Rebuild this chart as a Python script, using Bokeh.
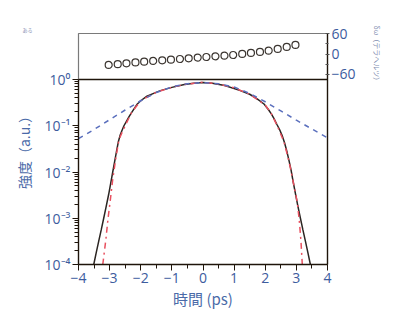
from bokeh.plotting import figure
from bokeh.models import (Range1d, FixedTicker, CustomJSTickFormatter, LinearAxis,
                          LinearScale, Span, Title)
from bokeh.embed import file_html
from bokeh.resources import INLINE

# ---------------- data ----------------
# measured intensity (black solid)
t_meas = [-3.51, -3.43, -3.35, -3.27, -3.19, -3.11, -3.03, -2.96, -2.9, -2.83, -2.77, -2.72,
          -2.66, -2.6, -2.54, -2.46, -2.38, -2.3, -2.2, -2.11, -2.0, -1.8, -1.37, -1.0, -0.6,
          -0.3, 0.0, 0.3, 0.7, 1.2, 1.5, 1.74, 1.96, 2.1, 2.2, 2.3, 2.38, 2.46, 2.54, 2.62,
          2.7, 2.76, 2.83, 2.9, 2.97, 3.05, 3.13, 3.21, 3.29, 3.37, 3.45]
i_meas = [1.0e-4, 1.8e-4, 3.2e-4, 5.6e-4, 1.0e-3, 1.8e-3, 3.3e-3, 6.0e-3, 1.0e-2, 1.8e-2,
          3.0e-2, 4.5e-2, 6.3e-2, 8.0e-2, 0.1, 0.125, 0.155, 0.19, 0.24, 0.295, 0.347,
          0.437, 0.575, 0.676, 0.776, 0.83, 0.86, 0.83, 0.74, 0.575, 0.48, 0.38, 0.295,
          0.225, 0.178, 0.135, 0.105, 0.083, 0.062, 0.043, 0.027, 0.018, 0.011, 6.0e-3,
          3.4e-3, 1.8e-3, 1.0e-3, 5.6e-4, 3.2e-4, 1.8e-4, 1.0e-4]

# retrieved intensity (red dash-dot)
t_ret = [-3.22, -3.12, -3.05, -2.98, -2.9, -2.8, -2.7, -2.6, -2.5, -2.3, -2.0, -1.5, -1.0,
         -0.5, 0.0, 0.5, 1.0, 1.5, 2.0, 2.2, 2.4, 2.6, 2.7, 2.8, 2.9, 2.97, 3.03, 3.1,
         3.15, 3.19]
i_ret = [1.0e-4, 3.5e-4, 1.0e-3, 2.4e-3, 7.0e-3, 0.02, 0.05, 0.072, 0.1, 0.19, 0.35, 0.53,
         0.68, 0.8, 0.87, 0.8, 0.66, 0.48, 0.28, 0.18, 0.095, 0.045, 0.025, 0.013, 6.0e-3,
         3.5e-3, 2.2e-3, 8.0e-4, 3.0e-4, 1.0e-4]

# broad reference pulse (blue dashed)
t_ref = [-4.0, -3.5, -3.0, -2.5, -2.2, -2.0, -1.5, -1.0, -0.5, 0.0, 0.5, 1.0, 1.5, 2.0,
         2.5, 3.0, 3.5, 4.0]
i_ref = [0.0525, 0.083, 0.135, 0.219, 0.288, 0.347, 0.525, 0.69, 0.81, 0.86, 0.81, 0.69,
         0.50, 0.33, 0.209, 0.132, 0.085, 0.055]

# instantaneous frequency shift (circles, top panel)
t_freq = [-3.03, -2.74, -2.46, -2.17, -1.89, -1.60, -1.31, -1.03, -0.74, -0.46, -0.17,
          0.11, 0.40, 0.69, 0.97, 1.26, 1.54, 1.83, 2.11, 2.40, 2.69, 2.97]
d_freq = [-32.0, -29.6, -27.1, -24.6, -22.2, -20.2, -18.2, -16.3, -14.3, -12.3, -10.3,
          -8.4, -6.4, -4.4, -2.5, 0.5, 3.5, 6.4, 10.3, 15.3, 21.2, 27.1]

x_ticks = [-4, -3, -2, -1, 0, 1, 2, 3, 4]
x_minor = [-3.5, -2.5, -1.5, -0.5, 0.5, 1.5, 2.5, 3.5]
x_labels = {-4: "−4", -3: "−3", -2: "−2", -1: "−1", 0: "0", 1: "1", 2: "2", 3: "3", 4: "4"}
y_decades = [1e-4, 1e-3, 1e-2, 1e-1, 1.0]
f_ticks = [-60, 0, 60]
f_minor = [-30, 30]
f_labels = {-60: "−60", 0: "0", 60: "60"}

x_label = "時間 (ps)"
y_label = "強度（a.u.）"
f_label = "δω（テラヘルツ）"
corner_note = "ある"

# ---------------- styling / layout ----------------
TICK_FONT = "Open Sans"
JP_FONT = "Noto Sans CJK JP"
BLUE_TXT = "#3d5c9e"
AXIS_COL = "#1e140a"

FRAME_W = 249
MAIN_H = 185          # height of the log panel (4 decades)
TOP_H = 46            # height of the frequency panel above it
frame_h = MAIN_H + TOP_H
log_top = 10 ** (4 * (frame_h / MAIN_H) - 4)     # upper end of the log range
f_top = 61.0
f_px = 40.6 / 120.0                                 # pixels per THz in top panel
f_bot = f_top - frame_h / f_px

p = figure(frame_width=FRAME_W, frame_height=frame_h,
           x_range=Range1d(-4, 4), y_range=Range1d(1e-4, log_top), y_axis_type="log",
           output_backend="svg", toolbar_location=None,
           min_border_left=78, min_border_right=68, min_border_top=33, min_border_bottom=59)
p.extra_y_ranges = {"f": Range1d(f_bot, f_top)}
p.extra_y_scales = {"f": LinearScale()}
p.xgrid.visible = False
p.ygrid.visible = False
p.outline_line_color = "#7a7a7a"
p.outline_line_width = 1.2
p.background_fill_color = "white"
p.border_fill_color = "white"

# tiny corner note as the title
p.title.text = corner_note
p.title.text_font = JP_FONT
p.title.text_font_size = "5px"
p.title.text_font_style = "normal"
p.title.text_color = "#7f8db0"
p.title.offset = -56
p.title.standoff = 1

# separator between panels
p.add_layout(Span(location=y_decades[-1], dimension="width", line_color=AXIS_COL,
                  line_width=1.3))

p.line(t_meas, i_meas, line_color="#2b2522", line_width=1.5)
p.line(t_ret, i_ret, line_color="#e8505f", line_width=1.5, line_dash="dashdot")
p.line(t_ref, i_ref, line_color="#5a6fbd", line_width=1.5, line_dash="5 5")

p.scatter(t_freq, d_freq, y_range_name="f", marker="circle", size=7,
          fill_color="white", line_color="#3c3631", line_width=1.2)

# bottom axis
xa = p.xaxis[0]
xa.ticker = FixedTicker(ticks=x_ticks, minor_ticks=x_minor)
xa.major_label_overrides = x_labels
xa.major_label_text_font = TICK_FONT
xa.major_label_text_font_size = "14px"
xa.major_label_text_color = BLUE_TXT
xa.axis_line_color = AXIS_COL
xa.axis_line_width = 1.3
xa.major_tick_line_color = AXIS_COL
xa.minor_tick_line_color = AXIS_COL
xa.major_tick_in = 0
xa.major_tick_out = 6
xa.minor_tick_in = 0
xa.minor_tick_out = 4
xa.major_label_standoff = 2
xa.axis_label = x_label
xa.axis_label_text_font = JP_FONT
xa.axis_label_text_font_size = "15px"
xa.axis_label_text_font_style = "normal"
xa.axis_label_text_color = "#4a6aa8"
xa.axis_label_standoff = 2

# left log axis (main panel only)
ylog = p.yaxis[0]
minor = [m * d for d in y_decades[:-1] for m in range(2, 10)]
ylog.ticker = FixedTicker(ticks=y_decades, minor_ticks=minor)
ylog.bounds = (y_decades[0], y_decades[-1])
ylog.formatter = CustomJSTickFormatter(code="""
const sup = {"-": "\u207b", "0": "\u2070", "1": "\u00b9", "2": "\u00b2", "3": "\u00b3", "4": "\u2074"};
const e = Math.round(Math.log10(tick));
return "10" + String(e).split("").map(c => sup[c]).join("");
""")
ylog.major_label_text_font = TICK_FONT
ylog.major_label_text_font_size = "14px"
ylog.major_label_text_color = BLUE_TXT
ylog.axis_line_color = AXIS_COL
ylog.axis_line_width = 1.3
ylog.major_tick_line_color = AXIS_COL
ylog.minor_tick_line_color = AXIS_COL
ylog.major_tick_in = 0
ylog.major_tick_out = 6
ylog.minor_tick_in = 0
ylog.minor_tick_out = 4
ylog.major_label_standoff = 2
ylog.axis_label = y_label
ylog.axis_label_text_font = JP_FONT
ylog.axis_label_text_font_size = "14px"
ylog.axis_label_text_font_style = "normal"
ylog.axis_label_text_color = "#4a6aa8"
ylog.axis_label_standoff = 8

# right axis for the frequency panel
fa = LinearAxis(y_range_name="f", ticker=FixedTicker(ticks=f_ticks, minor_ticks=f_minor))
fa.major_label_overrides = f_labels
fa.major_label_text_font = TICK_FONT
fa.major_label_text_font_size = "14px"
fa.major_label_text_color = BLUE_TXT
fa.axis_line_color = AXIS_COL
fa.axis_line_width = 1.3
fa.major_tick_in = 2
fa.major_tick_out = 2
fa.minor_tick_in = 2
fa.minor_tick_out = 1
fa.major_tick_line_color = "#555"
fa.minor_tick_line_color = "#555"
fa.major_label_standoff = 2
p.add_layout(fa, "right")

# title of the frequency axis, as a vertical title on the right, near the top panel
ft = Title(text=f_label, align="left", offset=-8, standoff=27, text_font=JP_FONT,
           text_font_size="7px", text_font_style="normal", text_color="#7f8db0")
p.add_layout(ft, "right")

open("out.html", "w").write(file_html(p, INLINE))
